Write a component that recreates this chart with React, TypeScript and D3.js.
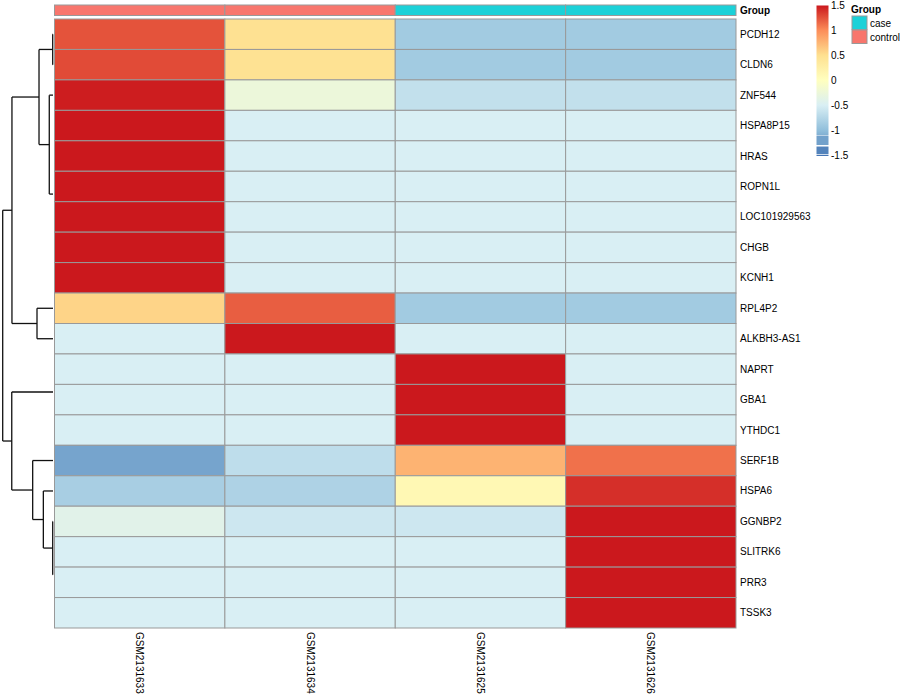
import React from "react";
import * as d3 from "d3";

// samples (columns) and their group annotation
const samples = ["GSM2131633", "GSM2131634", "GSM2131625", "GSM2131626"];
const sampleGroup = ["control", "control", "case", "case"];

// genes (rows) in clustered order
const genes = [
  "PCDH12", "CLDN6", "ZNF544", "HSPA8P15", "HRAS", "ROPN1L", "LOC101929563",
  "CHGB", "KCNH1", "RPL4P2", "ALKBH3-AS1", "NAPRT", "GBA1", "YTHDC1",
  "SERF1B", "HSPA6", "GGNBP2", "SLITRK6", "PRR3", "TSSK3",
];

// row z-scores, one array per gene
const zScores = [
  [1.25, 0.48, -0.88, -0.88],
  [1.28, 0.47, -0.88, -0.88],
  [1.48, -0.25, -0.66, -0.66],
  [1.5, -0.5, -0.5, -0.5],
  [1.5, -0.5, -0.5, -0.5],
  [1.5, -0.5, -0.5, -0.5],
  [1.5, -0.5, -0.5, -0.5],
  [1.5, -0.5, -0.5, -0.5],
  [1.5, -0.5, -0.5, -0.5],
  [0.57, 1.2, -0.88, -0.88],
  [-0.5, 1.5, -0.5, -0.5],
  [-0.5, -0.5, 1.5, -0.5],
  [-0.5, -0.5, 1.5, -0.5],
  [-0.5, -0.5, 1.5, -0.5],
  [-1.18, -0.69, 0.77, 1.12],
  [-0.84, -0.8, 0.12, 1.4],
  [-0.4, -0.58, -0.58, 1.5],
  [-0.5, -0.5, -0.5, 1.5],
  [-0.5, -0.5, -0.5, 1.5],
  [-0.5, -0.5, -0.5, 1.5],
];

// hclust-style merges: negative = leaf -(row+1), positive = merge number; third = height
const rowMerges: [number, number, number][] = [
  [-5, -6, 0],
  [-4, 1, 0],
  [-8, -9, 0],
  [-7, 3, 0],
  [2, 4, 0],
  [-13, -14, 0],
  [-12, 6, 0],
  [-19, -20, 0],
  [-18, 8, 0],
  [-1, -2, 0.03],
  [-17, 9, 0.03],
  [-3, 5, 0.37],
  [-16, 11, 0.96],
  [10, 12, 1.39],
  [-10, -11, 1.59],
  [-15, 13, 2.02],
  [14, 15, 4.08],
  [7, 16, 4.1],
  [17, 18, 5.0],
];

const colorDomain = [-1.5, -1, -0.5, 0, 0.5, 1, 1.5];
const colorRange = ["#4575B4", "#91BFDB", "#D9EFF4", "#FFFFBF", "#FEE090", "#FC8D59", "#CB181D"];
const legendTicks = [1.5, 1, 0.5, 0, -0.5, -1, -1.5];
const legendBlocks = [[-1.11, -1.3], [-1.33, -1.48], [-1.495, -1.52]];

const groupColors: Record<string, string> = { case: "#1CD1D8", control: "#F8766D" };
const groupLevels = ["case", "control"];

const FONT = "'Liberation Sans', Arial, sans-serif";

const App = () => {
  const left = 54.5, right = 736, top = 19, bottom = 628;
  const x = d3.scaleBand().domain(samples).range([left, right]);
  const y = d3.scaleBand().domain(genes).range([top, bottom]);
  const color = d3.scaleLinear<string>().domain(colorDomain).range(colorRange).clamp(true);

  // dendrogram
  const maxH = d3.max(rowMerges, (m) => m[2]) as number;
  const dx = d3.scaleLinear().domain([0, maxH]).range([53, 2.7]);
  const pos: { y: number; h: number }[] = [];
  const node = (id: number) =>
    id < 0 ? { y: (y(genes[-id - 1]) as number) + y.bandwidth() / 2, h: 0 } : pos[id - 1];
  const segs: [number, number, number, number][] = [];
  rowMerges.forEach(([a, b, h]) => {
    const na = node(a), nb = node(b);
    pos.push({ y: (na.y + nb.y) / 2, h });
    if (h === 0) return;
    segs.push([dx(h), na.y, dx(h), nb.y]);
    segs.push([dx(h), na.y, dx(na.h), na.y]);
    segs.push([dx(h), nb.y, dx(nb.h), nb.y]);
  });

  const ly = d3.scaleLinear().domain([-1.5, 1.5]).range([155, 5.5]);
  const gradTop = ly(1.5), gradBot = ly(-1.1);
  const gradStops = colorDomain.filter((v) => v >= -1.1).concat([-1.1]).sort((a, b) => b - a);

  return (
    <svg
      width={900}
      height={700}
      style={{ position: "absolute", left: 0, top: 0, background: "#fff" }}
      fontFamily={FONT}
      fontSize={10}
    >
      <defs>
        <linearGradient id="cbar" x1="0" y1="0" x2="0" y2="1">
          {gradStops.map((v, i) => (
            <stop
              key={i}
              offset={(ly(v) - gradTop) / (gradBot - gradTop)}
              stopColor={color(v)}
            />
          ))}
        </linearGradient>
      </defs>

      {/* dendrogram */}
      <g stroke="#111" strokeWidth={1.3} fill="none">
        {segs.map((s, i) => (
          <line key={i} x1={s[0]} y1={s[1]} x2={s[2]} y2={s[3]} />
        ))}
      </g>

      {/* annotation bar */}
      <g stroke="#999" strokeWidth={1}>
        {samples.map((s, i) => (
          <rect
            key={s}
            x={x(s)}
            y={5}
            width={x.bandwidth()}
            height={10.5}
            fill={groupColors[sampleGroup[i]]}
          />
        ))}
      </g>
      <text x={740} y={10.5} dominantBaseline="central" fontWeight="bold">
        Group
      </text>

      {/* heatmap */}
      <g stroke="#999" strokeWidth={1}>
        {genes.map((g, r) =>
          samples.map((s, c) => (
            <rect
              key={g + s}
              x={x(s)}
              y={y(g)}
              width={x.bandwidth()}
              height={y.bandwidth()}
              fill={color(zScores[r][c])}
            />
          ))
        )}
      </g>

      {/* row labels */}
      {genes.map((g) => (
        <text key={g} x={740} y={(y(g) as number) + y.bandwidth() / 2} dominantBaseline="central">
          {g}
        </text>
      ))}

      {/* column labels */}
      {samples.map((s) => {
        const cx = (x(s) as number) + x.bandwidth() / 2;
        return (
          <text
            key={s}
            transform={`translate(${cx},${bottom + 4}) rotate(90)`}
            dominantBaseline="central"
          >
            {s}
          </text>
        );
      })}

      {/* color legend */}
      <rect x={816.5} y={gradTop} width={12} height={gradBot - gradTop} fill="url(#cbar)" />
      {legendBlocks.map(([a, b], i) => (
        <rect
          key={i}
          x={816.5}
          y={ly(a)}
          width={12}
          height={ly(b) - ly(a)}
          fill={color((a + b) / 2)}
        />
      ))}
      {legendTicks.map((t) => (
        <text key={t} x={831} y={ly(t)} dominantBaseline="central">
          {t}
        </text>
      ))}

      {/* group legend */}
      <text x={851} y={9} dominantBaseline="central" fontWeight="bold">
        Group
      </text>
      {groupLevels.map((g, i) => (
        <g key={g}>
          <rect
            x={852}
            y={16 + i * 14}
            width={15}
            height={13.5}
            fill={groupColors[g]}
            stroke="#999"
            strokeWidth={1}
          />
          <text x={870} y={23 + i * 14} dominantBaseline="central">
            {g}
          </text>
        </g>
      ))}
    </svg>
  );
};

export default App;
